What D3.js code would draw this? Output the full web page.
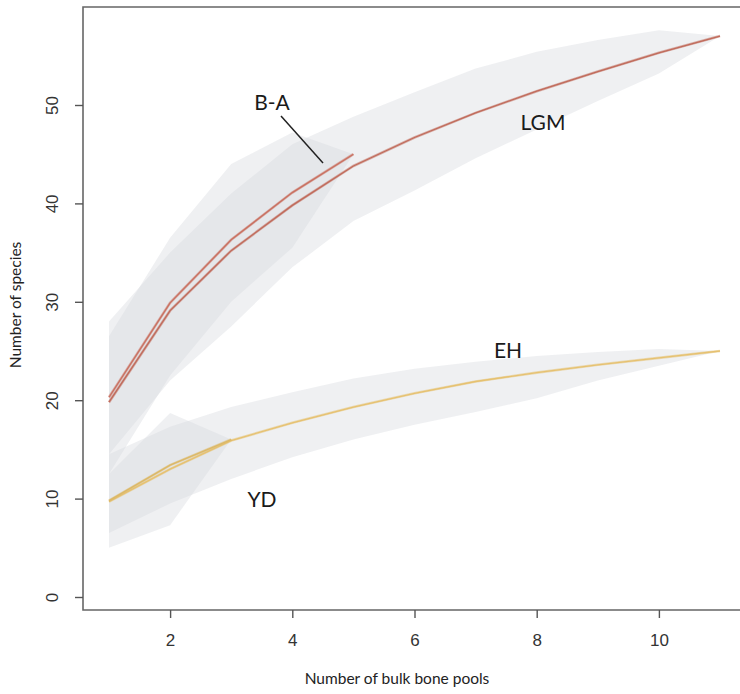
<!DOCTYPE html>
<html><head><meta charset="utf-8">
<script src="https://cdn.jsdelivr.net/npm/d3@7"></script>
<style>body{margin:0;background:#fff}svg{display:block}</style>
</head><body>
<svg id="c" width="740" height="694"></svg>
<script>
// x categories
const pools = [1,2,3,4,5,6,7,8,9,10,11];
// series (mean rarefaction curves)
const LGM = [19.8, 29.1, 35.2, 39.8, 43.8, 46.7, 49.2, 51.4, 53.4, 55.3, 57.0];
const BA  = [20.3, 29.9, 36.3, 41.1, 45.0];
const EH  = [9.7, 13.0, 15.9, 17.7, 19.3, 20.7, 21.9, 22.8, 23.6, 24.3, 25.0];
const YD  = [9.8, 13.4, 16.0];
// confidence bands
const LGM_hi = [28.0, 35.0, 41.0, 46.0, 48.8, 51.3, 53.7, 55.4, 56.6, 57.6, 57.0];
const LGM_lo = [14.5, 22.0, 27.5, 33.5, 38.2, 41.3, 44.6, 47.5, 50.4, 53.2, 57.0];
const BA_hi  = [26.5, 36.5, 44.0, 47.2, 45.0];
const BA_lo  = [12.5, 22.5, 30.0, 35.5, 45.0];
const EH_hi  = [14.5, 17.3, 19.3, 20.8, 22.2, 23.2, 23.9, 24.5, 24.9, 25.2, 25.0];
const EH_lo  = [6.5, 9.5, 12.0, 14.2, 16.0, 17.5, 18.8, 20.2, 22.0, 23.5, 25.0];
const YD_hi  = [12.5, 18.7, 16.0];
const YD_lo  = [5.0, 7.3, 16.0];
const xTicks = [2,4,6,8,10];
const yTicks = [0,10,20,30,40,50];

const svg = d3.select("#c");
const x = d3.scaleLinear().domain([1,11]).range([109,720]);
const y = d3.scaleLinear().domain([0,50]).range([597,105]);
const box = {l:83, t:7, r:760, b:610};

const bandColor = "#d6dade";
function band(hi, lo){
  const pts = hi.map((h,i)=>({x:pools[i],hi:h,lo:lo[i]}));
  svg.append("path").datum(pts)
    .attr("d", d3.area().x(d=>x(d.x)).y0(d=>y(d.lo)).y1(d=>y(d.hi)))
    .attr("fill", bandColor).attr("fill-opacity", 0.4);
}
band(LGM_hi, LGM_lo);
band(BA_hi, BA_lo);
band(EH_hi, EH_lo);
band(YD_hi, YD_lo);

function curve(vals, color){
  const line = d3.line().x((d,i)=>x(pools[i])).y(d=>y(d));
  svg.append("path").datum(vals).attr("d", line)
    .attr("fill","none").attr("stroke",color).attr("stroke-width",2.6).attr("stroke-opacity",0.5);
  svg.append("path").datum(vals).attr("d", line)
    .attr("fill","none").attr("stroke",color).attr("stroke-width",1.3);
}
curve(LGM, "#c06a5a");
curve(BA, "#c97060");
curve(EH, "#e6c170");
curve(YD, "#dcb866");

// box
svg.append("path")
  .attr("d", `M${box.r},${box.t}H${box.l}V${box.b}H${box.r}`)
  .attr("fill","none").attr("stroke","#666").attr("stroke-width",1.6);

// axes
const gx = svg.append("g").attr("transform",`translate(0,${box.b})`)
  .call(d3.axisBottom(x).tickValues(xTicks).tickSize(8).tickPadding(19).tickFormat(d3.format("d")));
const gy = svg.append("g").attr("transform",`translate(${box.l},0)`)
  .call(d3.axisLeft(y).tickValues(yTicks).tickSize(8).tickPadding(0).tickFormat(d3.format("d")));
[gx,gy].forEach(g=>{
  g.select(".domain").remove();
  g.selectAll(".tick line").attr("stroke","#555").attr("stroke-width",1.4);
  g.selectAll(".tick text").attr("fill","#333").style("font-family","Liberation Sans, Arial, sans-serif").style("font-size","17px");
});
gx.selectAll(".tick text").attr("dy","0.5em");
gy.selectAll(".tick text")
  .attr("text-anchor","middle").attr("dy",null).attr("x",null)
  .attr("transform","translate(-31,0) rotate(-90)").attr("dy","0.36em");

// axis titles
svg.append("text").attr("x",397).attr("y",684).attr("text-anchor","middle")
  .style("font-family","Lato, sans-serif").style("font-size","15.5px").attr("fill","#222")
  .text("Number of bulk bone pools");
svg.append("text").attr("transform","translate(21,305) rotate(-90)").attr("text-anchor","middle")
  .style("font-family","Lato, sans-serif").style("font-size","15.5px").attr("fill","#222")
  .text("Number of species");

// labels
const lab = (t,px,py)=>svg.append("text").attr("x",px).attr("y",py).attr("text-anchor","middle")
  .style("font-family","Lato, sans-serif").style("font-size","21px").attr("fill","#1a1a1a").text(t);
lab("B-A", 272, 110);
lab("LGM", 543, 130);
lab("EH", 508, 358);
lab("YD", 262, 507);
svg.append("line").attr("x1",281).attr("y1",116).attr("x2",323).attr("y2",163)
  .attr("stroke","#222").attr("stroke-width",1.5);
</script>
</body></html>
